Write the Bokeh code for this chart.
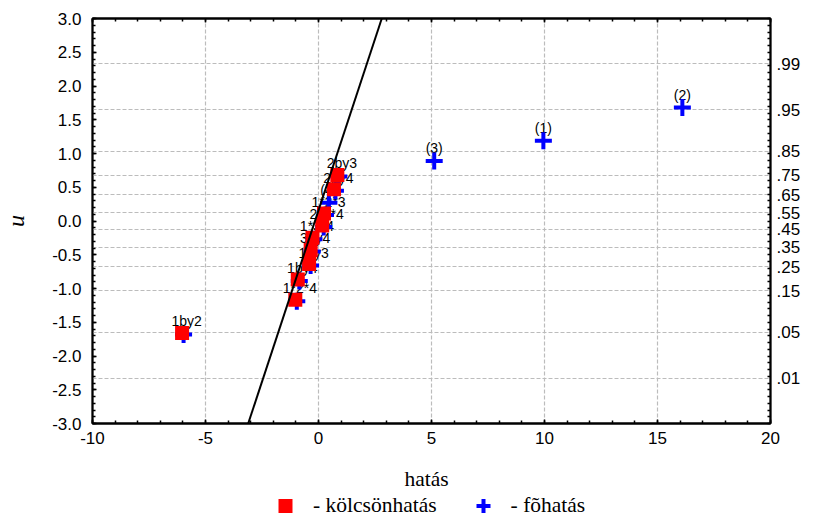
import numpy as np
from statistics import NormalDist
from bokeh.plotting import figure
from bokeh.layouts import column
from bokeh.models import (LinearAxis, FixedTicker, ColumnDataSource, Legend, LegendItem,
                          NumeralTickFormatter, CustomJSTickFormatter, Range1d, Label)
from bokeh.embed import file_html
from bokeh.resources import INLINE
from bokeh.core.properties import value

# ---- data ----
main_labels = ["(2)", "(1)", "(3)", "(4)"]
main_x = [16.10, 9.95, 5.12, 0.46]
main_u = [1.68, 1.19, 0.89, 0.27]

inter_labels = ["2by3", "2by4", "1*2*3", "2*3*4", "1*3*4", "3by4", "1by3", "1by4", "1*2*4", "1by2"]
inter_x = [0.90, 0.75, 0.31, 0.23, -0.20, -0.28, -0.35, -0.85, -0.96, -5.97]
inter_u = [0.66, 0.45, 0.09, -0.09, -0.27, -0.45, -0.66, -0.89, -1.19, -1.68]

line_x = [-3.11, 2.80]
line_u = [-3.0, 3.0]

x_ticks = [-10, -5, 0, 5, 10, 15, 20]
u_ticks = [-3.0, -2.5, -2.0, -1.5, -1.0, -0.5, 0.0, 0.5, 1.0, 1.5, 2.0, 2.5, 3.0]
prob_ticks = [0.01, 0.05, 0.15, 0.25, 0.35, 0.45, 0.55, 0.65, 0.75, 0.85, 0.95, 0.99]
prob_labels = [".01", ".05", ".15", ".25", ".35", ".45", ".55", ".65", ".75", ".85", ".95", ".99"]
x_title = "hatás"
y_title = "u"
legend_labels = ["- kölcsönhatás", "- fõhatás"]

# ---- layout ----
W = 815
H_MAIN, H_LEG = 453, 70
BL, BR, BT, BB = 92, 45, 18, 30
px_x = (W - BL - BR) / 30.0
px_u = (H_MAIN - BT - BB) / 6.0

nd = NormalDist()
prob_z = [nd.inv_cdf(pv) for pv in prob_ticks]
x_minor = list(range(-10, 21))
u_minor = [round(v, 1) for v in np.arange(-3.0, 3.0001, 0.1)]

BLUE = "#0000ff"
RED = "#ff0000"
TICK_FONT = "Liberation Sans"
TICK_SIZE = "17px"
SERIF = "Liberation Serif"

p = figure(width=W, height=H_MAIN, x_range=Range1d(-10, 20), y_range=Range1d(-3, 3),
           output_backend="svg", toolbar_location=None,
           min_border_left=BL, min_border_right=BR, min_border_top=BT, min_border_bottom=BB,
           y_axis_label=y_title)
p.background_fill_color = "white"
p.border_fill_color = "white"
p.outline_line_color = "black"
p.outline_line_width = 1.8

def style_axis(ax):
    ax.axis_line_color = "black"
    ax.axis_line_width = 1.8
    ax.major_tick_in = 4
    ax.major_tick_out = 0
    ax.minor_tick_in = 3
    ax.minor_tick_out = 0
    ax.major_tick_line_color = "black"
    ax.minor_tick_line_color = "black"
    ax.major_tick_line_width = 1.5
    ax.minor_tick_line_width = 1.5
    ax.major_label_text_font = TICK_FONT
    ax.major_label_text_font_size = TICK_SIZE
    ax.major_label_text_color = "black"

xa = p.xaxis[0]
xa.ticker = FixedTicker(ticks=x_ticks, minor_ticks=x_minor)
xa.formatter = NumeralTickFormatter(format="0")
style_axis(xa)
xa.major_label_standoff = 8

ya = p.yaxis[0]
ya.ticker = FixedTicker(ticks=u_ticks, minor_ticks=u_minor)
ya.formatter = NumeralTickFormatter(format="0.0")
style_axis(ya)
ya.major_label_standoff = 11
ya.axis_label_text_font = SERIF
ya.axis_label_text_font_style = "italic"
ya.axis_label_text_font_size = "24px"
ya.axis_label_text_color = "black"
ya.axis_label_standoff = 20

top = LinearAxis(ticker=FixedTicker(ticks=x_ticks, minor_ticks=x_minor),
                 formatter=CustomJSTickFormatter(code="return ''"))
style_axis(top)
top.major_label_text_font_size = "8px"
top.major_label_standoff = 0
p.add_layout(top, "above")

right = LinearAxis(ticker=FixedTicker(ticks=prob_z, minor_ticks=u_minor),
                   major_label_overrides={z: lab for z, lab in zip(prob_z, prob_labels)})
style_axis(right)
right.major_tick_in = 0
right.major_label_standoff = 6
p.add_layout(right, "right")

p.xgrid.ticker = FixedTicker(ticks=x_ticks)
p.xgrid.grid_line_color = "#bcbcbc"
p.xgrid.grid_line_dash = "4 2"
p.xgrid.grid_line_width = 1.2
p.ygrid.ticker = FixedTicker(ticks=prob_z)
p.ygrid.grid_line_color = "#bcbcbc"
p.ygrid.grid_line_dash = "4 2"
p.ygrid.grid_line_width = 1.2

src_m = ColumnDataSource(dict(x=main_x, u=main_u, lab=main_labels))
src_i = ColumnDataSource(dict(
    x=inter_x, u=inter_u, lab=inter_labels,
    sx=[v - 1.5 / px_x for v in inter_x],
    su=[v + 1.5 / px_u for v in inter_u]))

# labels (under the markers)
p.text(x="x", y="u", text="lab", source=src_i, text_font=value(TICK_FONT),
       text_font_size="14px", text_align="center", text_baseline="middle",
       x_offset=3, y_offset=-13, text_color="black")
p.text(x="x", y="u", text="lab", source=src_m, text_font=value(TICK_FONT),
       text_font_size="14px", text_align="center", text_baseline="middle",
       y_offset=-13, text_color="black")

p.scatter(x="x", y="u", source=src_i, marker="cross", size=17, line_width=4, line_color=BLUE)
p.scatter(x="x", y="u", source=src_m, marker="cross", size=17, line_width=4, line_color=BLUE)
p.scatter(x="sx", y="su", source=src_i, marker="square", size=14, fill_color=RED, line_color=None)

p.line(line_x, line_u, line_color="black", line_width=2)

# ---- strip below the chart: x title + legend ----
q = figure(width=W, height=H_LEG, x_range=p.x_range, y_range=Range1d(0, 1),
           output_backend="svg", toolbar_location=None,
           x_axis_location=None, y_axis_location=None,
           min_border_left=BL, min_border_right=BR, min_border_top=0, min_border_bottom=0)
q.outline_line_color = None
q.xgrid.visible = False
q.ygrid.visible = False
q.background_fill_color = "white"
q.border_fill_color = "white"

q.add_layout(Label(x=5, y=45, x_units="data", y_units="screen", text=x_title,
                   text_font=SERIF, text_font_size="21.5px", text_color="black",
                   text_align="center", text_baseline="middle", x_offset=-5))

# legend swatches: renderers whose only point lies outside the strip's visible range
dummy = ColumnDataSource(dict(x=[0.0], y=[-5.0]))
leg_sq = q.scatter(x="x", y="y", source=dummy, marker="square", size=14,
                   fill_color=RED, line_color=None)
leg_cr = q.scatter(x="x", y="y", source=dummy, marker="cross", size=17, line_width=4,
                   line_color=BLUE)
legend = Legend(items=[LegendItem(label=legend_labels[0], renderers=[leg_sq]),
                       LegendItem(label=legend_labels[1], renderers=[leg_cr])],
                location=(175, 0), orientation="horizontal")
legend.border_line_color = None
legend.background_fill_alpha = 0
legend.padding = 0
legend.margin = 0
legend.glyph_width = 36
legend.glyph_height = 35
legend.label_height = 20
legend.label_standoff = 10
legend.spacing = 28
legend.label_text_font = SERIF
legend.label_text_font_size = "21.5px"
legend.label_text_color = "black"
q.add_layout(legend)

page = column(p, q, spacing=0)
open("out.html", "w").write(file_html(page, INLINE))
